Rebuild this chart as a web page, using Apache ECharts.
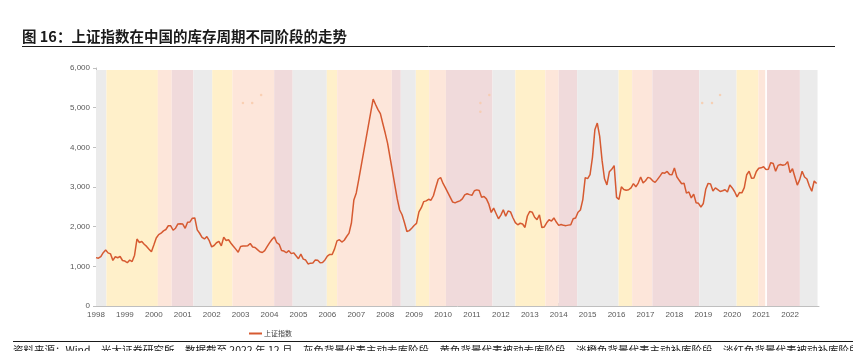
<!DOCTYPE html>
<html>
<head>
<meta charset="utf-8">
<script src="https://cdn.jsdelivr.net/npm/echarts@6/dist/echarts.min.js"></script>
<style>
html,body{margin:0;padding:0;background:#fff}
#chart{width:853px;height:351px}
</style>
</head>
<body>
<div id="chart"></div>
<script>
const startYear=1998
const seriesName='上证指数'
// monthly close, 1998-01 .. 2022-12
const shIndex=[
	1220,1206,1243,1343,1411,1339,1315,1150,1242,1217,1248,1147,
	1134,1090,1158,1120,1280,1689,1601,1627,1556,1502,1430,1367,
	1535,1714,1801,1836,1894,1928,2023,2022,1910,1961,2070,2073,
	2065,1960,2112,2119,2214,2218,1920,1834,1732,1690,1748,1646,
	1491,1525,1594,1627,1515,1732,1651,1669,1581,1507,1434,1357,
	1500,1512,1510,1521,1576,1487,1476,1421,1367,1348,1397,1497,
	1590,1675,1742,1595,1555,1399,1386,1342,1396,1320,1340,1266,
	1191,1306,1181,1159,1060,1080,1083,1162,1155,1092,1099,1161,
	1258,1299,1299,1440,1641,1672,1612,1658,1752,1837,2099,2675,
	2850,3180,3520,3860,4200,4540,4880,5215,5080,4950,4850,4600,
	4360,4100,3750,3400,3050,2700,2420,2300,2100,1880,1900,1960,
	2030,2082,2373,2477,2632,2650,2690,2667,2779,2995,3195,3240,
	3090,2980,2860,2740,2620,2600,2630,2650,2700,2800,2830,2808,
	2790,2905,2928,2911,2743,2762,2701,2567,2359,2468,2333,2199,
	2292,2428,2262,2396,2372,2225,2103,2047,2086,2068,1980,2269,
	2385,2365,2236,2177,2300,1979,1994,2098,2174,2141,2220,2116,
	2033,2056,2033,2026,2039,2048,2201,2217,2364,2420,2683,3235,
	3210,3310,3748,4441,4612,4277,3664,3206,3053,3383,3445,3539,
	2738,2688,3004,2938,2917,2930,2979,3085,3005,3100,3250,3104,
	3159,3242,3223,3155,3117,3192,3273,3361,3349,3393,3317,3307,
	3481,3259,3169,3082,3095,2847,2876,2725,2821,2603,2588,2494,
	2585,2941,3091,3078,2899,2979,2933,2886,2905,2929,2872,3050,
	2977,2880,2750,2860,2852,2985,3310,3396,3218,3225,3392,3473,
	3483,3509,3441,3447,3615,3591,3397,3544,3568,3547,3564,3640,
	3361,3462,3252,3047,3186,3399,3253,3202,3024,2893,3151,3089
]
// inventory cycle stages (year fractions)
const stageStart=[1998.00,1998.36,2000.14,2000.62,2001.37,2002.02,2002.72,2004.16,2004.80,2005.98,2006.34,2008.23,2008.54,2009.06,2009.52,2010.10,2011.71,2012.50,2013.54,2014.00,2014.64,2016.07,2016.54,2017.24,2018.86,2020.15,2020.91,2021.20,2022.34]
const stageEnd=[1998.36,2000.14,2000.62,2001.37,2002.02,2002.72,2004.16,2004.80,2005.98,2006.34,2008.23,2008.54,2009.06,2009.52,2010.10,2011.71,2012.50,2013.54,2014.00,2014.64,2016.07,2016.54,2017.24,2018.86,2020.15,2020.91,2021.14,2022.34,2022.95]
const stageType=['主动去库','被动去库','主动补库','被动补库','主动去库','被动去库','主动补库','被动补库','主动去库','被动去库','主动补库','被动补库','主动去库','被动去库','主动补库','被动补库','主动去库','被动去库','主动补库','被动补库','主动去库','被动去库','主动补库','被动补库','主动去库','被动去库','主动补库','被动补库','主动去库']
const stageColor={'主动去库':'#EBEBEB','被动去库':'#FFF0CA','主动补库':'#FDE6DA','被动补库':'#F0DADB'}
// stray marks left in the source picture
const dotX=[2003.08,2003.40,2003.71,2011.29,2011.29,2011.60,2018.96,2019.30,2019.58]
const dotY=[5119,5119,5321,5119,4899,5321,5119,5119,5321]

const latin='"Liberation Sans", Arial, sans-serif'
const cjk='"Noto Sans CJK SC", sans-serif'
const lineData=shIndex.map((v,i)=>[startYear+i/12,v])

const chart=echarts.init(document.getElementById('chart'))
chart.setOption({
	animation:false,
	grid:{left:96,right:34,top:68,bottom:45},
	legend:{
		data:[seriesName],
		left:244,top:325,
		itemWidth:13,itemHeight:2,itemGap:3,
		icon:'rect',
		textStyle:{fontSize:7,color:'#404040',fontFamily:cjk,padding:[0,0,0,-3]}
	},
	xAxis:{
		type:'value',min:1998,max:2023,interval:1,
		axisLine:{lineStyle:{color:'#BFBFBF'}},
		axisTick:{inside:true,length:3,lineStyle:{color:'#BFBFBF'}},
		axisLabel:{showMaxLabel:false,fontSize:8,color:'#595959',fontFamily:latin,margin:5,formatter:v=>String(v)},
		splitLine:{show:false}
	},
	yAxis:{
		type:'value',min:0,max:6000,interval:1000,
		axisLine:{show:true,lineStyle:{color:'#BFBFBF'}},
		axisTick:{show:true,length:3,lineStyle:{color:'#BFBFBF'}},
		axisLabel:{fontSize:8,color:'#595959',fontFamily:latin,margin:6,formatter:v=>v.toLocaleString('en-US')},
		splitLine:{show:false}
	},
	series:[
		{
			name:'stages',type:'line',data:[],z:1,silent:true,
			markArea:{
				silent:true,
				data:stageStart.map((s,k)=>[
					{xAxis:s,yAxis:0,itemStyle:{color:stageColor[stageType[k]]}},
					{xAxis:stageEnd[k],yAxis:5950}
				])
			}
		},
		{
			name:'marks',type:'scatter',z:2,silent:true,symbolSize:2.5,
			itemStyle:{color:'#F7C9A9'},
			data:dotX.map((x,k)=>[x,dotY[k]])
		},
		{
			name:seriesName,type:'line',z:3,
			data:lineData,showSymbol:false,
			lineStyle:{color:'#D65A31',width:1.5},
			itemStyle:{color:'#D65A31'}
		}
	],
	graphic:[
		{type:'text',left:22,top:29,style:{text:'图 16：上证指数在中国的库存周期不同阶段的走势',font:'bold 14.5px "Noto Sans CJK SC", sans-serif',fill:'#1A1A1A'}},
		{type:'line',shape:{x1:22,y1:46.5,x2:835,y2:46.5},style:{stroke:'#1A1A1A',lineWidth:1}},
		{type:'text',left:139,top:76,style:{text:'%',font:'7px "Liberation Sans", sans-serif',fill:'#7F7F7F'}},
		{type:'line',shape:{x1:13,y1:341.5,x2:853,y2:341.5},style:{stroke:'#1A1A1A',lineWidth:1}},
		{type:'text',left:13,top:345,style:{text:'资料来源：Wind，光大证券研究所，数据截至 2022 年 12 月，灰色背景代表主动去库阶段，黄色背景代表被动去库阶段，淡橙色背景代表主动补库阶段，淡红色背景代表被动补库阶段',font:'10.5px "Noto Sans CJK SC", sans-serif',fill:'#1A1A1A'}}
	]
})
</script>
</body>
</html>
